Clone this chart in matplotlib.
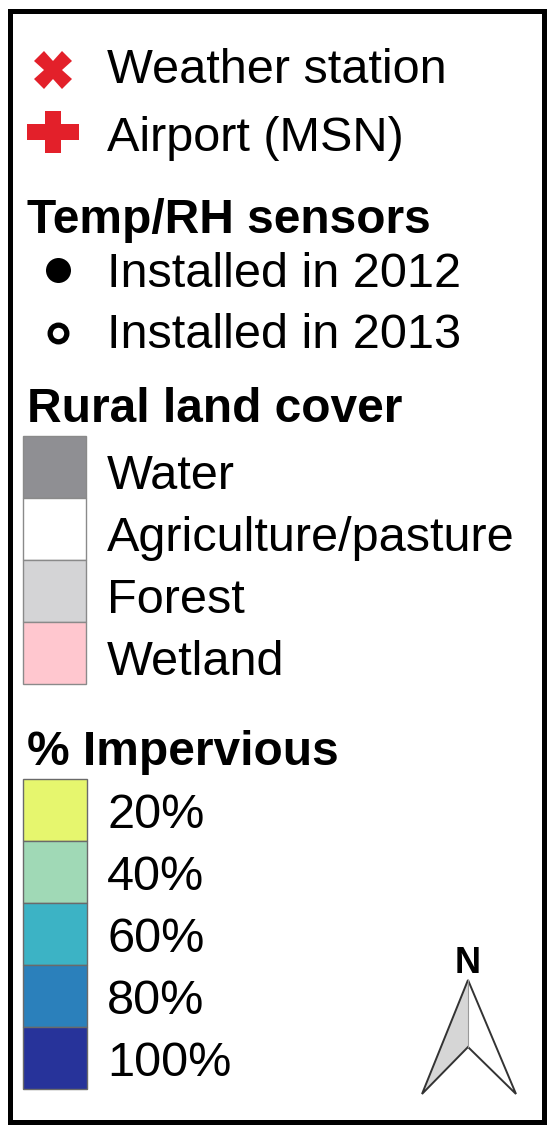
import matplotlib
matplotlib.use('Agg')
import matplotlib.pyplot as plt
from matplotlib.path import Path
from matplotlib.patches import Rectangle, Polygon

plt.rcParams['font.family'] = ['Liberation Sans', 'DejaVu Sans']

# legend content
point_labels = ['Weather station', 'Airport (MSN)']
point_color = '#e3202a'
sensor_title = 'Temp/RH sensors'
sensor_labels = ['Installed in 2012', 'Installed in 2013']
land_title = 'Rural land cover'
land_labels = ['Water', 'Agriculture/pasture', 'Forest', 'Wetland']
land_colors = ['#8f8f93', '#ffffff', '#d4d4d6', '#ffc7cf']
imperv_title = '% Impervious'
imperv_labels = ['20%', '40%', '60%', '80%', '100%']
imperv_colors = ['#e6f66e', '#a0d9b6', '#3cb3c5', '#2b80bb', '#27339a']

W, H = 548, 1127
fig = plt.figure(figsize=(W / 100, H / 100), dpi=100)
ax = fig.add_axes([0, 0, 1, 1])
ax.set_xlim(0, W)
ax.set_ylim(H, 0)
ax.axis('off')

FS = 35      # item labels
FS_HEAD = 34.5  # bold headings
label_x = 107
head_x = 27

# outer frame
ax.add_patch(Rectangle((9.5, 10.5), 534, 1111, fill=False, edgecolor='black', lw=3.6))

# point symbols
plus = Path([(-26, -7.5), (-7.5, -7.5), (-7.5, -20.5), (7.5, -20.5), (7.5, -7.5), (26, -7.5),
             (26, 7.5), (7.5, 7.5), (7.5, 20.5), (-7.5, 20.5), (-7.5, 7.5), (-26, 7.5), (-26, -7.5)],
            closed=True)
point_markers = ['X', plus]
point_sizes = [27, 38]
point_base = [83, 151]
point_my = [70, 132]
for lab, mk, ms, yb, my in zip(point_labels, point_markers, point_sizes, point_base, point_my):
    ax.plot([53], [my], marker=mk, ms=ms, color=point_color, mec=point_color, mew=0, ls='none')
    ax.text(label_x, yb, lab, fontsize=FS, va='baseline', ha='left')

# sensors
ax.text(head_x, 233, sensor_title, fontsize=FS_HEAD, fontweight='bold', va='baseline')
sensor_base = [287, 348]
sensor_my = [270, 333]
sensor_face = ['black', 'white']
sensor_ms = [18, 12]
sensor_mew = [0, 3.8]
for lab, yb, my, fc, ms, mew in zip(sensor_labels, sensor_base, sensor_my, sensor_face, sensor_ms, sensor_mew):
    ax.plot([58], [my], marker='o', ms=ms, mfc=fc, mec='black', mew=mew, ls='none')
    ax.text(label_x, yb, lab, fontsize=FS, va='baseline')

# land cover boxes
ax.text(head_x, 422, land_title, fontsize=FS_HEAD, fontweight='bold', va='baseline')
box_h = 62
land_top = 436
for i, (lab, col) in enumerate(zip(land_labels, land_colors)):
    top = land_top + i * box_h
    ax.bar(23, box_h, bottom=top, width=63, align='edge', color=col, edgecolor='#8a8a8a', lw=1)
    ax.text(label_x, top + box_h - 9, lab, fontsize=FS, va='baseline')

# impervious boxes
ax.text(head_x, 765, imperv_title, fontsize=FS_HEAD, fontweight='bold', va='baseline')
imp_top = 779
for i, (lab, col) in enumerate(zip(imperv_labels, imperv_colors)):
    top = imp_top + i * box_h
    ax.bar(23, box_h, bottom=top, width=64, align='edge', color=col, edgecolor='#6a6a6a', lw=1)
    ax.text(label_x, top + box_h - 13, lab, fontsize=FS, va='baseline')

# north arrow
tip, left, right, notch = (468, 980), (422, 1094), (516, 1094), (468, 1047)
ax.add_patch(Polygon([tip, left, notch], closed=True, facecolor='#d6d6d6', edgecolor='none'))
ax.add_patch(Polygon([tip, notch, right], closed=True, facecolor='white', edgecolor='none'))
ax.add_patch(Polygon([tip, left, notch, right], closed=True, fill=False, edgecolor='#333333',
                     lw=1.4, joinstyle='miter'))
ax.plot([tip[0], notch[0]], [tip[1], notch[1]], color='#999999', lw=0.8)
ax.text(468, 973, 'N', fontsize=26, fontweight='bold', ha='center', va='baseline')

fig.savefig('out.png', dpi=100)
